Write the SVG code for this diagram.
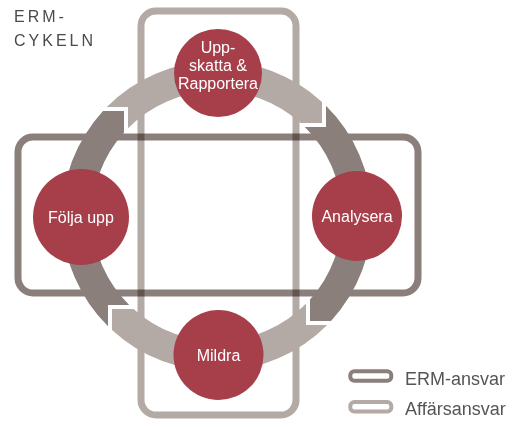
<svg xmlns="http://www.w3.org/2000/svg" width="516" height="427" viewBox="0 0 516 427">
  <style>
    .light { fill: #b3a9a5; }
    .dark { fill: #8b7f7c; }
    .box { fill: none; stroke-width: 7; }
    .aff { stroke: #b3a9a5; }
    .erm { stroke: #8b7f7c; mix-blend-mode: multiply; }
    .node circle { fill: #a63f4a; }
    .node text { fill: #ffffff; font-family: "Liberation Sans", Arial, sans-serif; font-size: 16px; text-anchor: middle; }
    .title { fill: #4a4a4a; font-family: "Liberation Sans", Arial, sans-serif; font-size: 16px; letter-spacing: 3px; }
    .legend text { fill: #555555; font-family: "Liberation Sans", Arial, sans-serif; font-size: 18px; }
    .legend rect { fill: none; stroke-width: 4; }
  </style>
  <rect width="516" height="427" fill="#ffffff"/>

  <text class="title" x="14" y="22">ERM-</text>
  <text class="title" x="14" y="46">CYKELN</text>

  <g id="affarsansvar-box">
    <rect class="box aff" x="141" y="11" width="155" height="404" rx="15"/>
  </g>
  <g id="erm-ansvar-box">
    <rect class="box erm" x="18" y="137" width="400" height="156" rx="15"/>
  </g>

  <g id="connectors">
    <path class="light" d="M106.8,107 A155,155 0 0 1 322,102 L322,123 L300.5,123 A125,125 0 0 0 128,128.2 L128,107 Z"/>
    <path class="dark" d="M326,105.8 A155,155 0 0 1 331,321 L310,321 L310,299.5 A125,125 0 0 0 304.8,127 L326,127 Z"/>
    <path class="light" d="M327.2,325 A155,155 0 0 1 112,330 L112,309 L133.5,309 A125,125 0 0 0 306,303.8 L306,325 Z"/>
    <path class="dark" d="M108,326.2 A155,155 0 0 1 103,111 L124,111 L124,132.5 A125,125 0 0 0 129.2,305 L108,305 Z"/>
  </g>

  <g id="node-uppskatta" class="node">
    <circle cx="218" cy="73" r="44"/>
    <text x="218" y="53">Upp-</text>
    <text x="218" y="71">skatta &amp;</text>
    <text x="218" y="89">Rapportera</text>
  </g>
  <g id="node-analysera" class="node">
    <circle cx="357" cy="216" r="45"/>
    <text x="357" y="222">Analysera</text>
  </g>
  <g id="node-mildra" class="node">
    <circle cx="218.5" cy="355" r="45"/>
    <text x="218.5" y="361">Mildra</text>
  </g>
  <g id="node-folja-upp" class="node">
    <circle cx="81" cy="217" r="48"/>
    <text x="81" y="223">Följa upp</text>
  </g>

  <g id="legend" class="legend">
    <rect x="350.3" y="371.3" width="41" height="9.4" rx="4" stroke="#8b7f7c"/>
    <text x="405" y="385">ERM-ansvar</text>
    <rect x="350.3" y="402" width="41" height="9.4" rx="4" stroke="#b3a9a5"/>
    <text x="405" y="415">Affärsansvar</text>
  </g>
</svg>
